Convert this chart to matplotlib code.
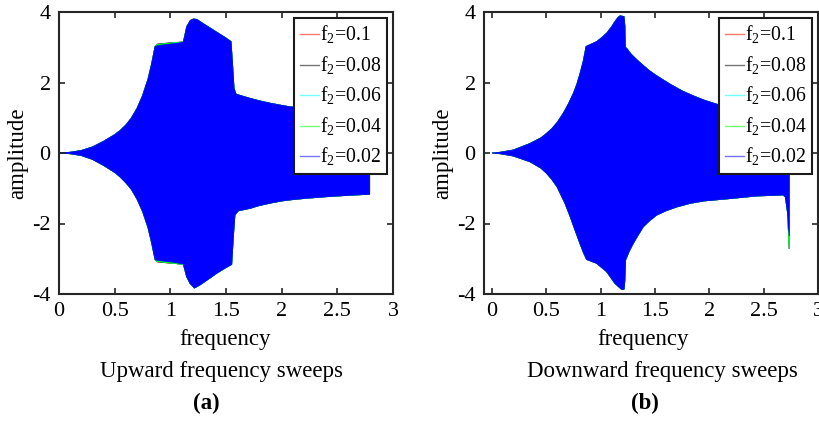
import numpy as np
import matplotlib
matplotlib.use("Agg")
import matplotlib.pyplot as plt
from matplotlib.lines import Line2D

plt.rcParams["font.family"] = ["Liberation Serif", "DejaVu Serif"]
plt.rcParams["mathtext.fontset"] = "custom"
plt.rcParams["mathtext.rm"] = "Liberation Serif"

# forcing amplitudes and series colours
f2_values = [0.1, 0.08, 0.06, 0.04, 0.02]
f2_labels = ["0.1", "0.08", "0.06", "0.04", "0.02"]
series_colors = ["#ff0000", "#000000", "#00ffff", "#00ff00", "#0000ff"]

# ---- upward sweep: response envelope (frequency, amplitude) ----
up_pre_f = [0.0, 0.1, 0.2, 0.3, 0.4, 0.5, 0.55, 0.6, 0.65, 0.7, 0.75, 0.8, 0.83, 0.863]
up_pre_hi = [0.0, 0.02, 0.07, 0.17, 0.33, 0.52, 0.64, 0.79, 0.99, 1.26, 1.62, 2.1, 2.5, 3.02]
up_pre_lo = [0.0, -0.02, -0.07, -0.18, -0.35, -0.55, -0.68, -0.84, -1.03, -1.30, -1.65, -2.12, -2.52, -3.02]

# plateau between the two jumps (the larger forcings sit slightly outside)
up_plat_f = [0.88, 0.95, 1.03, 1.117]
up_plat_hi = {0.1: [3.09, 3.11, 3.13, 3.15], 0.08: [3.08, 3.11, 3.13, 3.15],
              0.06: [3.08, 3.10, 3.13, 3.15], 0.04: [3.07, 3.10, 3.12, 3.15],
              0.02: [3.04, 3.07, 3.10, 3.14]}
up_plat_lo = {0.1: [-3.09, -3.11, -3.13, -3.16], 0.08: [-3.08, -3.11, -3.13, -3.16],
              0.06: [-3.08, -3.10, -3.13, -3.16], 0.04: [-3.07, -3.10, -3.13, -3.16],
              0.02: [-3.04, -3.07, -3.10, -3.15]}

up_post_f_hi = [1.147, 1.18, 1.207, 1.237, 1.3, 1.4, 1.5, 1.545, 1.56, 1.572, 1.59, 1.65, 1.716,
                1.8, 1.9, 2.0, 2.075, 2.2, 2.4, 2.6, 2.79]
up_post_hi = [3.58, 3.76, 3.80, 3.79, 3.66, 3.46, 3.26, 3.16, 2.45, 1.83, 1.67, 1.61, 1.55,
              1.48, 1.41, 1.35, 1.31, 1.28, 1.24, 1.20, 1.17]
up_post_f_lo = [1.147, 1.177, 1.216, 1.267, 1.35, 1.417, 1.5, 1.551, 1.566, 1.58, 1.611, 1.716,
                1.8, 1.9, 2.0, 2.075, 2.2, 2.4, 2.6, 2.79]
up_post_lo = [-3.51, -3.70, -3.83, -3.74, -3.56, -3.41, -3.25, -3.16, -2.37, -1.76, -1.64, -1.57,
              -1.49, -1.42, -1.36, -1.33, -1.29, -1.24, -1.20, -1.17]

# ---- downward sweep: response envelope ----
dn_f_hi = [0.0, 0.074, 0.196, 0.35, 0.45, 0.503, 0.55, 0.6, 0.656, 0.7, 0.748, 0.78, 0.81, 0.84, 0.865,
           0.9, 0.963, 1.0, 1.055, 1.1, 1.131, 1.16, 1.178, 1.214, 1.222, 1.226,
           1.24, 1.28, 1.33, 1.392, 1.45, 1.5, 1.576, 1.65, 1.75, 1.852, 1.95, 2.05, 2.13,
           2.25, 2.4, 2.55, 2.69, 2.735]
dn_hi = [0.0, 0.02, 0.085, 0.27, 0.43, 0.56, 0.69, 0.87, 1.13, 1.38, 1.69, 1.95, 2.26, 2.62, 3.02,
         3.07, 3.16, 3.25, 3.40, 3.58, 3.73, 3.85, 3.89, 3.87, 3.6, 3.0,
         2.96, 2.80, 2.65, 2.48, 2.33, 2.22, 2.07, 1.93, 1.76, 1.62, 1.50, 1.40, 1.33,
         1.28, 1.23, 1.20, 1.17, 1.15]
dn_f_lo = [0.0, 0.074, 0.196, 0.35, 0.45, 0.503, 0.55, 0.6, 0.626, 0.67, 0.718, 0.76, 0.81, 0.84, 0.87,
           0.963, 1.055, 1.131, 1.193, 1.215, 1.222, 1.228, 1.26, 1.30, 1.35, 1.392, 1.45, 1.515,
           1.6, 1.7, 1.82, 1.95, 2.13, 2.3, 2.43, 2.6, 2.68, 2.70, 2.72]
dn_lo = [0.0, -0.02, -0.085, -0.25, -0.43, -0.58, -0.75, -0.97, -1.14, -1.42, -1.8, -2.16, -2.58, -2.82, -3.02,
         -3.13, -3.37, -3.70, -3.87, -3.86, -3.6, -3.04, -2.80, -2.56, -2.30, -2.09, -1.92, -1.76,
         -1.64, -1.53, -1.43, -1.36, -1.31, -1.26, -1.22, -1.20, -1.19, -1.25, -1.7]
# end of the downward sweep (start transient), deepest for the larger forcings
dn_tail_f = 2.735
dn_tail_lo = {0.1: -2.72, 0.08: -2.72, 0.06: -2.72, 0.04: -2.72, 0.02: -2.35}

x_ticks = [0, 0.5, 1, 1.5, 2, 2.5, 3]
x_ticklabels = ["0", "0.5", "1", "1.5", "2", "2.5", "3"]
y_ticks = [-4, -2, 0, 2, 4]
y_ticklabels = ["-4", "-2", "0", "2", "4"]

W, H = 820, 421
fig = plt.figure(figsize=(W / 100, H / 100), dpi=100)


def px_axes(left, right, top, bottom):
    return fig.add_axes([left / W, 1 - bottom / H, (right - left) / W, (bottom - top) / H])


ax_up = px_axes(59, 393, 12, 294)
ax_dn = px_axes(484, 818, 12, 294)


def envelope(ax, f_hi, a_hi, f_lo, a_lo, color):
    xs = np.r_[f_hi, f_lo[::-1]]
    ys = np.r_[a_hi, a_lo[::-1]]
    ax.fill(xs, ys, color=color, lw=0.6, ec=color, antialiased=True)


for f2, col in zip(f2_values, series_colors):
    fh = np.r_[up_pre_f, up_plat_f, up_post_f_hi]
    ah = np.r_[up_pre_hi, up_plat_hi[f2], up_post_hi]
    fl = np.r_[up_pre_f, up_plat_f, up_post_f_lo]
    al = np.r_[up_pre_lo, up_plat_lo[f2], up_post_lo]
    envelope(ax_up, fh, ah, fl, al, col)

    fl_d = np.r_[dn_f_lo, dn_tail_f]
    al_d = np.r_[dn_lo, dn_tail_lo[f2]]
    envelope(ax_dn, np.array(dn_f_hi), np.array(dn_hi), fl_d, al_d, col)

spine_col = "#262626"
for ax, xlim in ((ax_up, (0, 3)), (ax_dn, (-0.075, 3))):
    ax.set_xlim(*xlim)
    ax.set_ylim(-4, 4)
    ax.set_xticks(x_ticks)
    ax.set_xticklabels(x_ticklabels)
    ax.set_yticks(y_ticks)
    ax.set_yticklabels(y_ticklabels)
    ax.tick_params(direction="in", top=True, right=True, length=4, width=1.2,
                   color=spine_col, labelsize=16, pad=6)
    for s in ax.spines.values():
        s.set_linewidth(1.5)
        s.set_color(spine_col)
    handles = [Line2D([], [], color=c, lw=1.0, alpha=0.55) for c in series_colors]
    labels = [r"f$_\mathregular{2}$=" + t for t in f2_labels]
    leg = ax.legend(handles, labels, loc="upper right", fontsize=14.2, frameon=True,
                    fancybox=False, framealpha=1.0, handlelength=0.95, handletextpad=0.05,
                    labelspacing=0.42, borderpad=0.3, borderaxespad=0.3)
    leg.get_frame().set_edgecolor("#1a1a1a")
    leg.get_frame().set_linewidth(1.5)

txt = dict(fontsize=16.5, ha="center", va="center")
fig.text(18 / W, 1 - 153 / H, "amplitude", rotation=90, **txt)
fig.text(443 / W, 1 - 153 / H, "amplitude", rotation=90, **txt)
fig.text(225.5 / W, 1 - 340 / H, "frequency", **txt)
fig.text(643 / W, 1 - 340 / H, "frequency", **txt)
fig.text(222 / W, 1 - 372 / H, "Upward frequency sweeps", **txt)
fig.text(662.5 / W, 1 - 372 / H, "Downward frequency sweeps", **txt)
fig.text(206 / W, 1 - 403 / H, "(a)", fontweight="bold", **txt)
fig.text(645 / W, 1 - 403 / H, "(b)", fontweight="bold", **txt)

fig.savefig("out.png", dpi=100)
